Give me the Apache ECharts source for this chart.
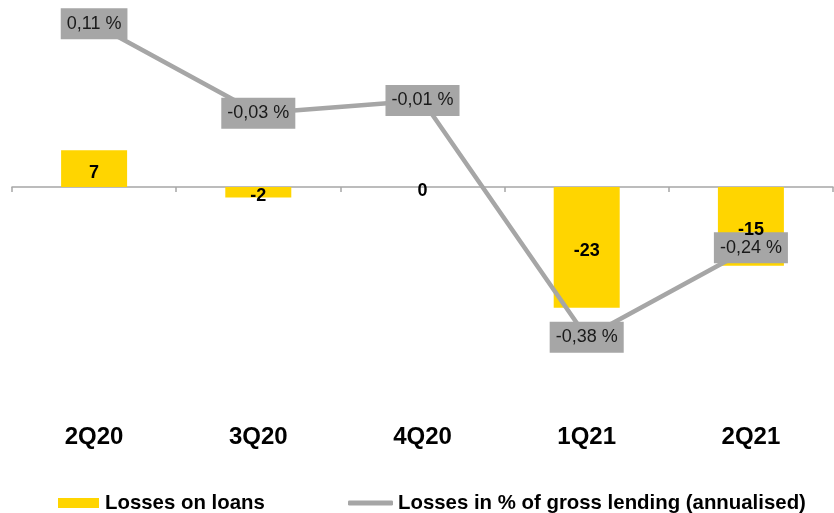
<!DOCTYPE html>
<html>
<head>
<meta charset="utf-8">
<script src="https://cdn.jsdelivr.net/npm/echarts@6/dist/echarts.min.js"></script>
<style>
  html, body { margin: 0; padding: 0; background: #ffffff; }
  #chart { width: 834px; height: 513px; }
</style>
</head>
<body>
<div id="chart"></div>
<script>
// Quarterly credit losses
const quarters = ['2Q20', '3Q20', '4Q20', '1Q21', '2Q21'];
const lossesOnLoans = [7, -2, 0, -23, -15];
const lossRatioPct = [0.11, -0.03, -0.01, -0.38, -0.24];
const barName = 'Losses on loans';
const lineName = 'Losses in % of gross lending (annualised)';

const GOLD = '#FFD500';
const GREY = '#A6A6A6';
const FONT = '"Liberation Sans", Arial, sans-serif';

const chart = echarts.init(document.getElementById('chart'), null, { renderer: 'canvas' });

const fmtPct = v => v.toFixed(2).replace('.', ',') + ' %';

const barLabel = {
  show: true,
  position: 'inside',
  offset: [0, 4],
  fontFamily: FONT, fontWeight: 'bold', fontSize: 18, color: '#000'
};

chart.setOption({
  animation: false,
  backgroundColor: '#ffffff',
  grid: { left: 12, right: 1, top: 0, bottom: 113, containLabel: false, outerBoundsMode: 'none' },
  legend: [
    {
      left: 53, top: 488,
      data: [{ name: barName, icon: 'rect' }],
      itemWidth: 41, itemHeight: 10,
      textStyle: { fontFamily: FONT, fontWeight: 'bold', fontSize: 20.4, color: '#000', padding: [0, 0, 0, 1] }
    },
    {
      left: 343, top: 488,
      data: [{ name: lineName, icon: 'roundRect' }],
      itemWidth: 45, itemHeight: 5,
      textStyle: { fontFamily: FONT, fontWeight: 'bold', fontSize: 20.4, color: '#000' }
    }
  ],
  xAxis: [
    {
      // baseline through zero with ticks between quarters
      type: 'category',
      data: quarters,
      boundaryGap: true,
      axisLine: { onZero: true, onZeroAxisIndex: 0, lineStyle: { color: GREY, width: 1.5 } },
      axisTick: { show: true, length: 5, lineStyle: { color: GREY, width: 1.5 } },
      axisLabel: { show: false },
      splitLine: { show: false }
    },
    {
      // quarter names along the bottom
      type: 'category',
      data: quarters,
      position: 'bottom',
      boundaryGap: true,
      axisLine: { show: false, onZero: false },
      axisTick: { show: false },
      axisLabel: {
        margin: 25,
        fontFamily: FONT, fontWeight: 'bold', fontSize: 24, color: '#000'
      },
      splitLine: { show: false }
    }
  ],
  yAxis: [
    { type: 'value', min: -40.57, max: 35.62, show: false, splitLine: { show: false } },
    { type: 'value', min: -0.478, max: 0.147, show: false, splitLine: { show: false } }
  ],
  series: [
    {
      name: barName,
      type: 'bar',
      data: lossesOnLoans,
      xAxisIndex: 0,
      yAxisIndex: 0,
      barWidth: 66,
      itemStyle: { color: GOLD },
      z: 2,
      label: { show: false }
    },
    {
      name: lineName,
      type: 'line',
      data: lossRatioPct,
      xAxisIndex: 0,
      yAxisIndex: 1,
      color: GREY,
      symbol: 'circle',
      symbolSize: 1,
      lineStyle: { color: GREY, width: 4.5 },
      itemStyle: { color: GREY },
      z: 3,
      label: {
        show: true,
        position: 'inside',
        formatter: p => fmtPct(p.value),
        fontFamily: FONT, fontSize: 18, color: '#1a1a1a',
        backgroundColor: GREY,
        padding: [7, 6, 6, 6],
        lineHeight: 18
      }
    },
    {
      // value labels for the bars, kept above the line and its boxes
      name: 'barValues',
      type: 'bar',
      data: lossesOnLoans,
      xAxisIndex: 0,
      yAxisIndex: 0,
      barWidth: 66,
      barGap: '-100%',
      itemStyle: { color: 'rgba(0,0,0,0)' },
      silent: true,
      z: 4,
      label: barLabel
    }
  ]
});
</script>
</body>
</html>
